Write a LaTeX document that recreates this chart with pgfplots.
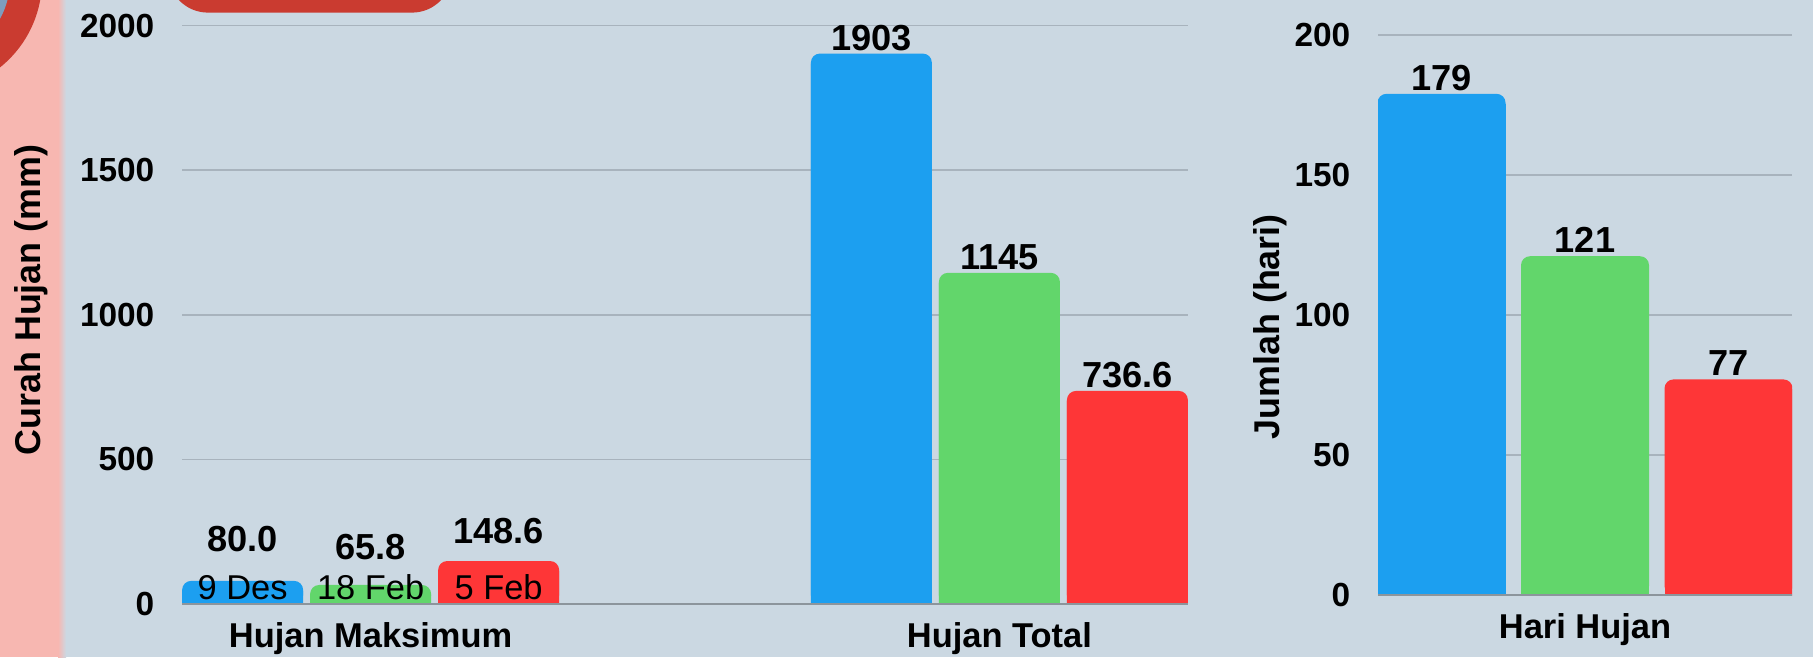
\documentclass[border=0pt]{standalone}
\usepackage{fontspec}
\setmainfont{Liberation Sans}
\usepackage{pgfplots}
\usepackage{pgfplotstable}
\pgfplotsset{compat=1.18}

\definecolor{bg}{HTML}{CBD8E2}
\definecolor{cblue}{HTML}{1C9FF0}
\definecolor{cgreen}{HTML}{62D66B}
\definecolor{cred}{HTML}{FE3637}
\definecolor{gridc}{HTML}{A8B3BD}
\definecolor{basec}{HTML}{8C959C}
\definecolor{pinkc}{HTML}{F7B7B1}
\definecolor{dred}{HTML}{CA3B30}
\definecolor{ringc}{HTML}{7D9DBE}

% left axis: groups at 0 (Hujan Maksimum) and 1 (Hujan Total); bars offset by 0.2036
\pgfplotstableread{
x y off lab
-0.2036 80.0 29 80.0
0.7964 1903 3.5 1903
}\tblblue
\pgfplotstableread{
x y off lab
0 65.8 25.5 65.8
1 1145 3.5 1145
}\tblgreen
\pgfplotstableread{
x y off lab
0.2036 148.6 17.5 148.6
1.2036 736.6 3.5 736.6
}\tblred
\pgfplotstableread{
x y lab
-0.2036 0 {9 Des}
0 0 {18 Feb}
0.2036 0 {5 Feb}
}\tbldates

\newcommand{\valfont}{\fontsize{10.3}{12}\selectfont\bfseries}
\newcommand{\tickfont}{\fontsize{9.5}{11}\selectfont\bfseries}
\newcommand{\xlabfont}{\fontsize{9.8}{11}\selectfont\bfseries}
\newcommand{\ylabfont}{\fontsize{10.2}{12}\selectfont\bfseries}
\newcommand{\datefont}{\fontsize{9.8}{11}\selectfont}

\pgfplotsset{
  common/.style={
    scale only axis, anchor=south west,
    axis line style={draw=none}, tick style={draw=none},
    major tick length=0pt,
    ymajorgrids, grid style={draw=gridc, line width=0.45pt},
    yticklabel style={font=\tickfont, anchor=east, inner sep=0pt, xshift=-2.7mm},
    xticklabel style={font=\xlabfont, anchor=base, inner sep=0pt, yshift=-4.3mm},
    ylabel style={font=\ylabfont, anchor=base},
    clip=true,
  },
  rbar/.style={ybar, draw=none, rounded corners=0.9mm, fill=#1, bar shift=0,
    nodes near coords, point meta=explicit symbolic,
    visualization depends on={\thisrow{off} \as \off},
    nodes near coords style={font=\valfont, text=black, anchor=base, inner sep=0pt, yshift=\off*0.1mm}},
  sbar/.style={ybar, draw=none, fill=#1, bar shift=0, yshift=-1mm, forget plot},
}

\begin{document}
\begin{tikzpicture}
\useasboundingbox (0,0) rectangle (181.3mm,65.7mm);
\fill[bg] (0,0) rectangle (181.3mm,65.7mm);
\fill[pinkc] (0,0) rectangle (5.8mm,65.7mm);
\shade[left color=pinkc, right color=bg] (5.8mm,0) rectangle (6.6mm,65.7mm);
\fill[dred] (-7mm,67.7mm) circle (11.2mm);
\fill[ringc] (-7mm,67.7mm) circle (8mm);
\fill[dred, rounded corners=4mm] (16.8mm,64.44mm) rectangle (45.2mm,70mm);

\begin{axis}[common, name=leftax,
  at={(18.2mm,5.3mm)}, width=100.6mm, height=57.85mm,
  xmin=-0.3, xmax=1.3, ymin=0, ymax=2000,
  ytick={0,500,1000,1500,2000}, yticklabels={0,500,1000,1500,2000},
  xtick={0,1}, xticklabels={Hujan Maksimum,Hujan Total},
  ylabel={Curah Hujan (mm)},
  ylabel style={at={(axis description cs:-0.141,0.5255)}},
]
\addplot[rbar=cblue, bar width=0.1924] table[x=x,y=y,meta=lab] \tblblue;
\addplot[sbar=cblue, bar width=0.1924] table[x=x,y=y] \tblblue;
\addplot[rbar=cgreen, bar width=0.1924] table[x=x,y=y,meta=lab] \tblgreen;
\addplot[sbar=cgreen, bar width=0.1924] table[x=x,y=y] \tblgreen;
\addplot[rbar=cred, bar width=0.1924] table[x=x,y=y,meta=lab] \tblred;
\addplot[sbar=cred, bar width=0.1924] table[x=x,y=y] \tblred;
\addplot[draw=none, mark=none, nodes near coords, point meta=explicit symbolic,
  nodes near coords style={font=\datefont, text=black, anchor=base, inner sep=0pt, yshift=0.5mm}]
  table[x=x,y=y,meta=lab] \tbldates;
\end{axis}
\draw[basec, line width=0.6pt] (leftax.south west) -- (leftax.south east);

\begin{axis}[common, name=rightax,
  at={(137.8mm,6.2mm)}, width=41.4mm, height=56mm,
  xmin=-1.4425, xmax=1.4425, ymin=0, ymax=200,
  ytick={0,50,100,150,200}, yticklabels={0,50,100,150,200},
  xtick={0}, xticklabels={Hari Hujan},
  ylabel={Jumlah (hari)},
  ylabel style={at={(axis description cs:-0.239,0.479)}},
]
\addplot[ybar, draw=none, rounded corners=0.9mm, fill=cblue, bar width=0.892, bar shift=0,
  nodes near coords, point meta=explicit symbolic,
  nodes near coords style={font=\valfont, text=black, anchor=base, inner sep=0pt, yshift=0.35mm}]
  coordinates {(-1,179) [179]};
\addplot[sbar=cblue, bar width=0.892] coordinates {(-1,179)};
\addplot[ybar, draw=none, rounded corners=0.9mm, fill=cgreen, bar width=0.892, bar shift=0,
  nodes near coords, point meta=explicit symbolic,
  nodes near coords style={font=\valfont, text=black, anchor=base, inner sep=0pt, yshift=0.35mm}]
  coordinates {(0,121) [121]};
\addplot[sbar=cgreen, bar width=0.892] coordinates {(0,121)};
\addplot[ybar, draw=none, rounded corners=0.9mm, fill=cred, bar width=0.892, bar shift=0,
  nodes near coords, point meta=explicit symbolic,
  nodes near coords style={font=\valfont, text=black, anchor=base, inner sep=0pt, yshift=0.35mm}]
  coordinates {(1,77) [77]};
\addplot[sbar=cred, bar width=0.892] coordinates {(1,77)};
\end{axis}
\draw[basec, line width=0.6pt] (rightax.south west) -- (rightax.south east);
\end{tikzpicture}
\end{document}
